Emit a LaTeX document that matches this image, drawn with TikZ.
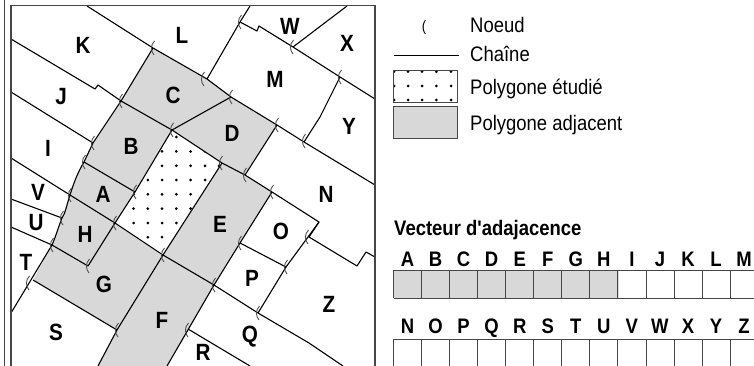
\documentclass[tikz,border=0pt]{standalone}
\usepackage{fontspec}
\setmainfont[FakeStretch=0.88,Ligatures=TeXOff]{Liberation Sans}
\definecolor{mapgray}{RGB}{216,216,216}
\definecolor{mapframe}{RGB}{70,70,70}
\definecolor{mapnoeud}{RGB}{80,80,80}
\tikzset{
  chaine/.style={draw=black,line width=1.1pt,line join=round},
  adjacent/.style={fill=mapgray,draw=none},
  cadre/.style={draw=mapframe,line width=1.2pt},
  cellule/.style={draw=mapframe,line width=0.9pt},
  noeudmark/.style={draw=mapnoeud,line width=0.9pt},
  polylabel/.style={font=\fontsize{23.5}{25}\selectfont\bfseries,inner sep=0pt},
  veclabel/.style={font=\fontsize{21}{23}\selectfont\bfseries,inner sep=0pt,anchor=base},
  legendtext/.style={font=\fontsize{21}{23}\selectfont,inner sep=0pt,anchor=base west}
}
\newcommand{\semis}{%
  \foreach \px in {133.5,147.8,162,176.3,190.6,205,219}
    \foreach \py in {137,151.4,165.8,180,194.3,208.6,223,237.2}
      \fill (\px,\py) circle (1.5);}
\begin{document}
\begin{tikzpicture}[x=1pt,y=-1pt]
\useasboundingbox (0,0) rectangle (754,366);

% Polygones adjacents
\path[adjacent] (153,48) -- (207,79) -- (231,97) -- (277,125) -- (245,175) -- (222,163)
  -- (172,130) -- (135,192) -- (115,223) -- (163,255) -- (222,163) -- (245,175) -- (272,192)
  -- (240,243) -- (214,285) -- (190,327) -- (167,366) -- (98,366) -- (117,330) -- (33,280)
  -- (52,245) .. controls (60,228) and (63,212) .. (70,195) .. controls (74,182) and (78,172) .. (84,162)
  -- (93,143) -- (121,101) -- cycle;
\fill[white] (172,130) -- (222,163) -- (163,255) -- (115,223) -- (135,192) -- cycle;

% Polygone etudie
\begin{scope}
\clip (172,130) -- (222,163) -- (163,255) -- (115,223) -- (135,192) -- cycle;
\semis
\end{scope}

% Chaines
\draw[chaine] (87,6) -- (153,48) -- (207,79) -- (231,97) -- (277,125) -- (304,142) -- (375,185);
\draw[chaine] (11,39) -- (95,89) -- (98,85) -- (121,101) -- (172,130) -- (222,163) -- (245,175)
  -- (272,192) -- (319,222) -- (309,237) -- (357,266) -- (366,252) -- (375,257);
\draw[chaine] (11,92) -- (93,143);
\draw[chaine] (11,158) -- (70,195) -- (115,223) -- (163,255) -- (214,285) -- (258,313) -- (309,343) -- (343,366);
\draw[chaine] (11,199) -- (62,218);
\draw[chaine] (11,227) -- (52,245) -- (88,266) -- (115,223) -- (135,192) -- (172,130) -- (231,97);
\draw[chaine] (84,162) -- (135,192);
\draw[chaine] (153,48) -- (121,101) -- (93,143) -- (84,162) .. controls (78,172) and (74,182) .. (70,195)
  .. controls (66,207) and (66,212) .. (62,218) .. controls (58,228) and (56,236) .. (52,245) -- (11,313);
\draw[chaine] (33,280) -- (117,330);
\draw[chaine] (222,163) -- (163,255) -- (117,330) -- (98,366);
\draw[chaine] (277,125) -- (245,175);
\draw[chaine] (272,192) -- (240,243) -- (214,285) -- (167,366);
\draw[chaine] (188,329) -- (250,366);
\draw[chaine] (240,243) -- (286,267);
\draw[chaine] (258,313) -- (286,267) -- (319,222);
\draw[chaine] (250,6) -- (240,22) -- (207,79);
\draw[chaine] (240,22) -- (257,31) -- (259,26) -- (293,47) -- (340,77) -- (375,99);
\draw[chaine] (293,47) -- (347,6);
\draw[chaine] (340,77) -- (320,117) -- (304,142);

% Noeuds
\foreach \nx/\ny in {153/48,121/101,172/130,93/143,84/162,135/192,70/195,62/218,52/245,28/283,
    115/223,88/266,163/255,117/330,187/330,240/22,292/47,340/77,304/141,277/125,231/97,203/79,
    221/163,245/175,272/192,240/243,214/285,258/313,286/267,307/237}
  \draw[noeudmark] (\nx+1.5,\ny-7) .. controls (\nx-2.5,\ny-3) and (\nx-2.5,\ny+3) .. (\nx+1,\ny+7);

% Etiquettes des polygones
\foreach \lettre/\lx/\ly in {A/103/194,B/131/146,C/173/95,D/232/133,E/220/224,F/162/320,G/104/284,
    H/85/234,I/48/148,J/61/97,K/83/45,L/182/35,M/275/79,N/326/194,O/281/231,P/252/278,Q/250/337,
    R/203/352,S/56/332,T/26/262,U/36/223,V/38/192,W/290/26,X/347/43,Y/349/126,Z/329/304}
  \node[polylabel] (poly\lettre) at (\lx,\ly) {\lettre};

% Cadre
\draw[cadre] (4.3,0) -- (4.3,366);
\draw[cadre] (11,366) -- (11,5.7) -- (375,5.7) -- (375,366);

% Legende
\node[legendtext,font=\fontsize{15}{17}\selectfont,anchor=center] (legnoeud) at (424,28) {(};
\draw[line width=0.9pt] (394,55) -- (459,55);
\begin{scope}
\clip (393.5,70.7) rectangle (457.7,102.7);
\foreach \px in {394,408,422,436.3,451}
  \foreach \py in {71.7,86,100}
    \fill (\px,\py) circle (1.5);
\end{scope}
\draw[cellule] (393.5,70.7) rectangle (457.7,102.7);
\draw[cellule,fill=mapgray] (393.5,106.7) rectangle (457.7,138.5);
\node[legendtext] (txtnoeud) at (470,33) {Noeud};
\node[legendtext] (txtchaine) at (470,62) {Chaîne};
\node[legendtext] (txtetudie) at (470,95) {Polygone étudié};
\node[legendtext] (txtadjacent) at (470,131) {Polygone adjacent};

% Vecteur d'adajacence
\node[veclabel,anchor=base west] (vectitre) at (394,235) {Vecteur d'adajacence};
\foreach \lettre [count=\i from 0] in {A,B,C,D,E,F,G,H,I,J,K,L,M}
  \node[veclabel] (vec\lettre) at ({407.5+28.05*\i},266) {\lettre};
\foreach \lettre [count=\i from 0] in {N,O,P,Q,R,S,T,U,V,W,X,Y,Z}
  \node[veclabel] (vec\lettre) at ({407.5+28.05*\i},333) {\lettre};
\fill[mapgray] (393.5,270) rectangle (618.7,298);
\draw[cellule] (393.5,270) -- (754,270) (393.5,298) -- (754,298) (393.5,339) -- (754,339);
\foreach \i in {0,...,12}
  \draw[cellule] ({393.5+28.05*\i},270) -- ({393.5+28.05*\i},298)
    ({393.5+28.05*\i},339) -- ({393.5+28.05*\i},366);
\end{tikzpicture}
\end{document}
